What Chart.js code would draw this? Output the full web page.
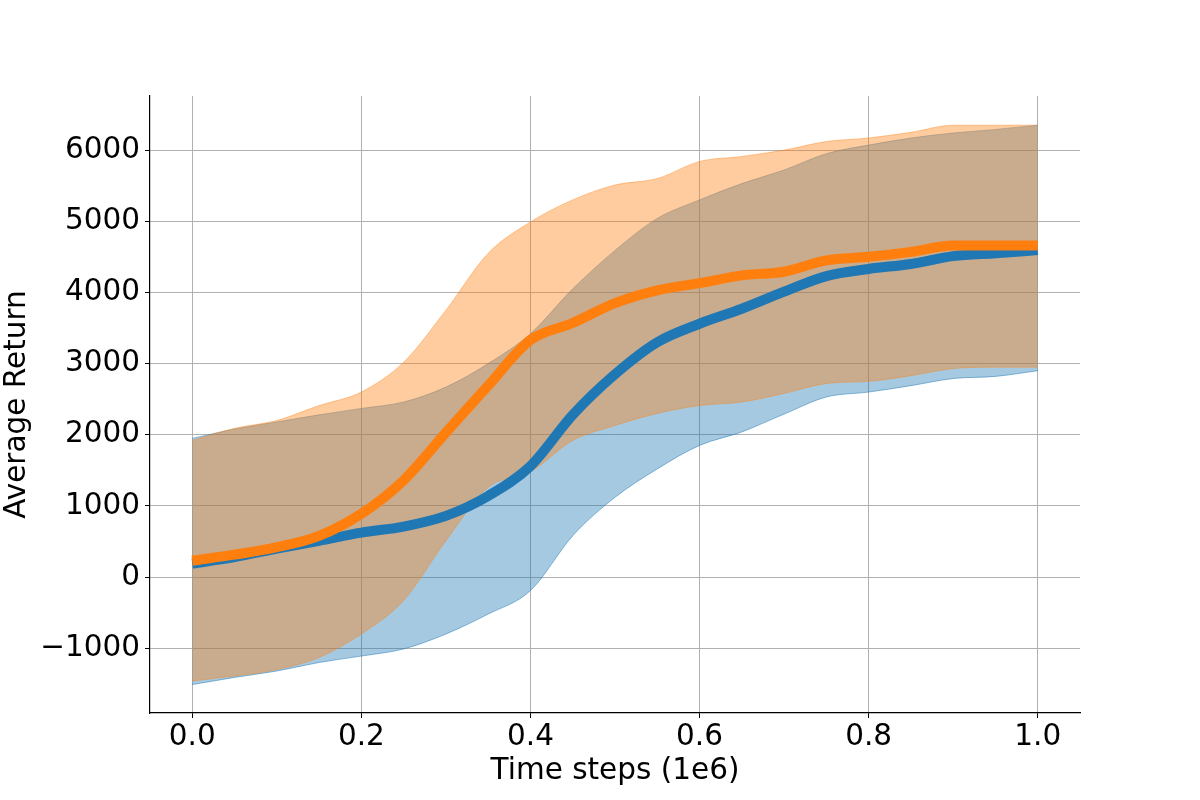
<!DOCTYPE html>
<html>
<head>
<meta charset="utf-8">
<script src="https://cdn.jsdelivr.net/npm/chart.js@4.4.1/dist/chart.umd.min.js"></script>
<style>
  html, body { margin: 0; padding: 0; background: #fff; }
  #wrap { width: 1200px; height: 800px; }
</style>
</head>
<body>
<div id="wrap"><canvas id="plot" width="1200" height="800"></canvas></div>
<script>
// time steps (1e6)
const steps = [0.0, 0.05, 0.1, 0.15, 0.2, 0.25, 0.3, 0.35, 0.4, 0.45, 0.5,
               0.55, 0.6, 0.65, 0.7, 0.75, 0.8, 0.85, 0.9, 0.95, 1.0];

// blue run: mean and band
const blueMean  = [190, 280, 400, 510, 625, 710, 860, 1140, 1560, 2280, 2850,
                   3300, 3560, 3770, 4010, 4230, 4330, 4400, 4510, 4550, 4595];
const blueUpper = [1950, 2080, 2180, 2280, 2370, 2460, 2670, 3000, 3420, 4050, 4590,
                   5040, 5300, 5530, 5720, 5950, 6070, 6170, 6240, 6290, 6350];
const blueLower = [-1510, -1410, -1320, -1200, -1110, -1010, -800, -520, -190, 580, 1120,
                   1520, 1850, 2040, 2290, 2530, 2600, 2690, 2790, 2820, 2900];

// orange run: mean and band
const orangeMean  = [230, 315, 420, 580, 890, 1360, 2030, 2690, 3330, 3570, 3850,
                     4030, 4130, 4240, 4290, 4450, 4500, 4570, 4660, 4660, 4660];
const orangeUpper = [1920, 2090, 2200, 2410, 2600, 3020, 3750, 4550, 4990, 5300, 5510,
                     5600, 5840, 5910, 6000, 6120, 6170, 6250, 6350, 6350, 6350];
const orangeLower = [-1460, -1390, -1300, -1130, -800, -330, 510, 1260, 1480, 1920, 2130,
                     2300, 2410, 2460, 2580, 2720, 2750, 2830, 2930, 2950, 2950];

const xTicks = [0.0, 0.2, 0.4, 0.6, 0.8, 1.0];
const yTicks = [-1000, 0, 1000, 2000, 3000, 4000, 5000, 6000];

const BLUE = "#1f77b4";
const ORANGE = "#ff7f0e";

function pts(arr) {
    return arr.map((v, i) => ({ x: steps[i], y: v }));
}

const context = document.getElementById("plot").getContext("2d");
Chart.defaults.font.family = "'DejaVu Sans', sans-serif";
Chart.defaults.color = "#000";

const lineBase = {
    pointRadius: 0,
    pointHoverRadius: 0,
    cubicInterpolationMode: "monotone",
};

let chart = new Chart(context, {
    type: "line",
    data: {
        datasets: [
            // first dataset is drawn on top
            { ...lineBase, label: "orange", data: pts(orangeMean), borderColor: ORANGE, borderWidth: 10, fill: false, borderCapStyle: "butt" },
            { ...lineBase, label: "blue", data: pts(blueMean), borderColor: BLUE, borderWidth: 10, fill: false, borderCapStyle: "butt" },
            { ...lineBase, label: "orange hi", data: pts(orangeUpper), borderColor: "rgba(255,127,14,0.4)", borderWidth: 1,
              fill: "+1", backgroundColor: "rgba(255,127,14,0.4)" },
            { ...lineBase, label: "orange lo", data: pts(orangeLower), borderColor: "rgba(255,127,14,0.4)", borderWidth: 1, fill: false },
            { ...lineBase, label: "blue hi", data: pts(blueUpper), borderColor: "rgba(31,119,180,0.4)", borderWidth: 1,
              fill: "+1", backgroundColor: "rgba(31,119,180,0.4)" },
            { ...lineBase, label: "blue lo", data: pts(blueLower), borderColor: "rgba(31,119,180,0.5)", borderWidth: 1, fill: false },
        ],
    },
    options: {
        responsive: false,
        animation: false,
        layout: { padding: { top: 96, right: 120, left: 0, bottom: 0 } },
        plugins: {
            legend: { display: false },
            tooltip: { enabled: false },
        },
        scales: {
            x: {
                type: "linear",
                min: -0.05,
                max: 1.05,
                afterFit: (s) => { s.height = 87; },
                afterBuildTicks: (s) => { s.ticks = xTicks.map(v => ({ value: v })); },
                ticks: {
                    font: { size: 29.5 },
                    padding: 2,
                    maxRotation: 0,
                    callback: (v) => v.toFixed(1),
                },
                grid: { color: "#b0b0b0", lineWidth: 1, tickLength: 5, tickColor: "#000" },
                border: { color: "#000", width: 1.2 },
                title: { display: true, text: "Time steps (1e6)", font: { size: 29.5 }, padding: { top: 0, bottom: 11 } },
            },
            y: {
                type: "linear",
                min: -1910,
                max: 6760,
                afterFit: (s) => { s.width = 150; },
                afterBuildTicks: (s) => { s.ticks = yTicks.map(v => ({ value: v })); },
                ticks: {
                    font: { size: 29.5 },
                    padding: 5,
                    callback: (v) => (v < 0 ? "\u2212" + Math.abs(v) : String(v)),
                },
                grid: { color: "#b0b0b0", lineWidth: 1, tickLength: 5, tickColor: "#000" },
                border: { color: "#000", width: 1.2 },
                title: { display: true, text: "Average Return", font: { size: 29.5 }, padding: { top: 0, bottom: 0 } },
            },
        },
    },
});
</script>
</body>
</html>
